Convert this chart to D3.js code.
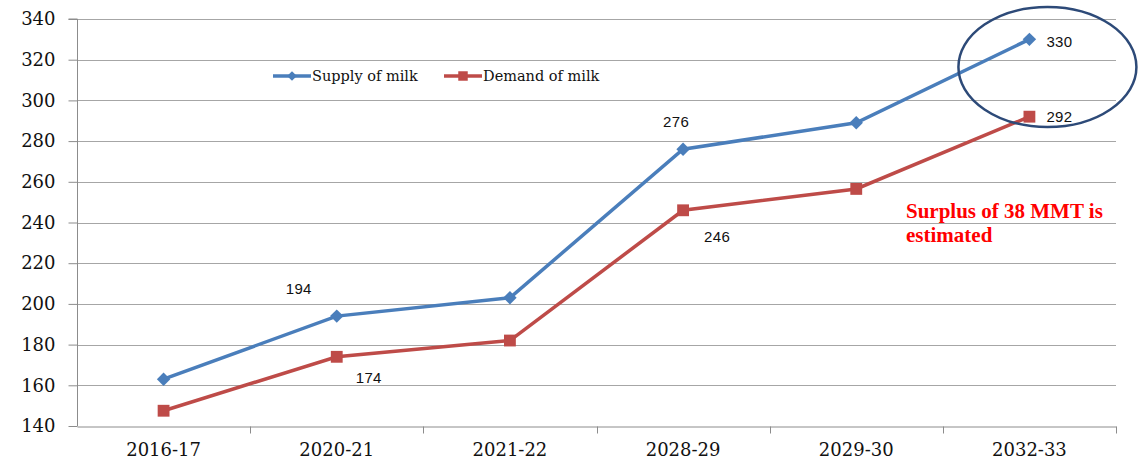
<!DOCTYPE html>
<html>
<head>
<meta charset="utf-8">
<script src="https://cdn.jsdelivr.net/npm/d3@7"></script>
<style>
  body { margin: 0; background: #fff; }
</style>
</head>
<body>
<script>
var w = 1143;
var h = 469;

// chart data
var categories = ["2016-17", "2020-21", "2021-22", "2028-29", "2029-30", "2032-33"];
var supply = [163, 194, 203, 276, 289, 330];
var demand = [147.5, 174, 182, 246, 256.5, 292];
var yTicks = [140, 160, 180, 200, 220, 240, 260, 280, 300, 320, 340];
var seriesNames = ["Supply of milk", "Demand of milk"];
var note = ["Surplus of 38 MMT is", "estimated"];

var blue = "#4a7ebb";
var red = "#be4b48";
var serif = "'DejaVu Serif', serif";

var x = d3.scaleBand()
    .domain(categories)
    .range([77, 1116]);

var y = d3.scaleLinear()
    .domain([140, 340])
    .range([426, 19]);

var svg = d3.select("body")
    .append("svg")
    .attr("width", w)
    .attr("height", h);

// gridlines
svg.append("g")
    .selectAll("line")
    .data(yTicks.slice(1))
    .enter()
    .append("line")
    .attr("x1", 77)
    .attr("x2", 1116)
    .attr("y1", function(d) { return Math.round(y(d)) + 0.5; })
    .attr("y2", function(d) { return Math.round(y(d)) + 0.5; })
    .attr("stroke", "#a6a6a6")
    .attr("stroke-width", 1);

// y axis
var yAxis = svg.append("g")
    .attr("transform", "translate(77.5,0)")
    .attr("font-family", serif)
    .call(d3.axisLeft(y).tickValues(yTicks).tickSize(9).tickPadding(13));
yAxis.attr("font-family", serif).attr("font-size", 18);
yAxis.select(".domain").attr("stroke", "#8c8c8c").attr("d", "M-9," + y(340) + "H0V" + y(140));
yAxis.selectAll(".tick line").attr("stroke", "#8c8c8c");
yAxis.selectAll(".tick text").attr("fill", "#111");

// x axis
var xAxis = svg.append("g")
    .attr("transform", "translate(0," + (y(140) + 0.5) + ")")
    .call(d3.axisBottom(x).tickSize(0).tickPadding(17));
xAxis.attr("font-family", serif).attr("font-size", 18);
xAxis.select(".domain").attr("stroke", "#8c8c8c");
xAxis.selectAll(".tick text").attr("fill", "#111");
// ticks at category boundaries
xAxis.selectAll(".bound")
    .data(categories)
    .enter()
    .append("line")
    .attr("x1", function(d) { return Math.round(x(d) + x.bandwidth()) + 0.5; })
    .attr("x2", function(d) { return Math.round(x(d) + x.bandwidth()) + 0.5; })
    .attr("y1", 0)
    .attr("y2", 7)
    .attr("stroke", "#8c8c8c");

function cx(i) { return x(categories[i]) + x.bandwidth() / 2; }

var line = d3.line()
    .x(function(d, i) { return cx(i); })
    .y(function(d) { return y(d); });

svg.append("path")
    .datum(supply)
    .attr("d", line)
    .attr("fill", "none")
    .attr("stroke", blue)
    .attr("stroke-width", 3.5);

svg.append("path")
    .datum(demand)
    .attr("d", line)
    .attr("fill", "none")
    .attr("stroke", red)
    .attr("stroke-width", 3.5);

var diamond = d3.symbol().type(d3.symbolDiamond2).size(115);
var square = d3.symbol().type(d3.symbolSquare).size(140);

svg.selectAll(".sm")
    .data(supply)
    .enter()
    .append("path")
    .attr("d", diamond)
    .attr("transform", function(d, i) { return "translate(" + cx(i) + "," + y(d) + ")"; })
    .attr("fill", blue);

svg.selectAll(".dm")
    .data(demand)
    .enter()
    .append("path")
    .attr("d", square)
    .attr("transform", function(d, i) { return "translate(" + cx(i) + "," + y(d) + ")"; })
    .attr("fill", red);

// data labels: [series, index, dx, dy]
var labels = [
    [supply, 1, -38, -27],
    [demand, 1, 32, 21],
    [supply, 3, -7, -27],
    [demand, 3, 34, 26],
    [supply, 5, 30, 2],
    [demand, 5, 30, 0]
];
svg.selectAll(".lbl")
    .data(labels)
    .enter()
    .append("text")
    .attr("x", function(d) { return cx(d[1]) + d[2]; })
    .attr("y", function(d) { return y(d[0][d[1]]) + d[3]; })
    .attr("dy", "0.35em")
    .attr("text-anchor", "middle")
    .attr("font-family", "'Liberation Sans', Arial, sans-serif")
    .attr("font-size", 15)
    .attr("letter-spacing", 0.3)
    .attr("fill", "#111")
    .text(function(d) { return d[0][d[1]]; });

// legend
var legend = svg.append("g").attr("transform", "translate(273,76)");
[0, 1].forEach(function(k) {
    var g = legend.append("g").attr("transform", "translate(" + (k * 171) + ",0)");
    g.append("line")
        .attr("x1", 0).attr("x2", 38)
        .attr("stroke", k === 0 ? blue : red)
        .attr("stroke-width", 3.5);
    g.append("path")
        .attr("d", k === 0 ? d3.symbol().type(d3.symbolDiamond2).size(60) : d3.symbol().type(d3.symbolSquare).size(90))
        .attr("transform", "translate(19,0)")
        .attr("fill", k === 0 ? blue : red);
    g.append("text")
        .attr("x", 39)
        .attr("dy", "0.35em")
        .attr("font-family", serif)
        .attr("font-size", 14.5)
        .attr("fill", "#111")
        .text(seriesNames[k]);
});

// highlight ellipse
svg.append("ellipse")
    .attr("cx", cx(5) + 18)
    .attr("cy", 67)
    .attr("rx", 89)
    .attr("ry", 60)
    .attr("fill", "none")
    .attr("stroke", "#2d4a78")
    .attr("stroke-width", 2.5);

// surplus note
svg.selectAll(".note")
    .data(note)
    .enter()
    .append("text")
    .attr("x", 906)
    .attr("y", function(d, i) { return 218 + i * 24; })
    .attr("font-family", "'Liberation Serif', serif")
    .attr("font-size", 21)
    .attr("font-weight", "bold")
    .attr("fill", "#ff0000")
    .text(function(d) { return d; });
</script>
</body>
</html>
